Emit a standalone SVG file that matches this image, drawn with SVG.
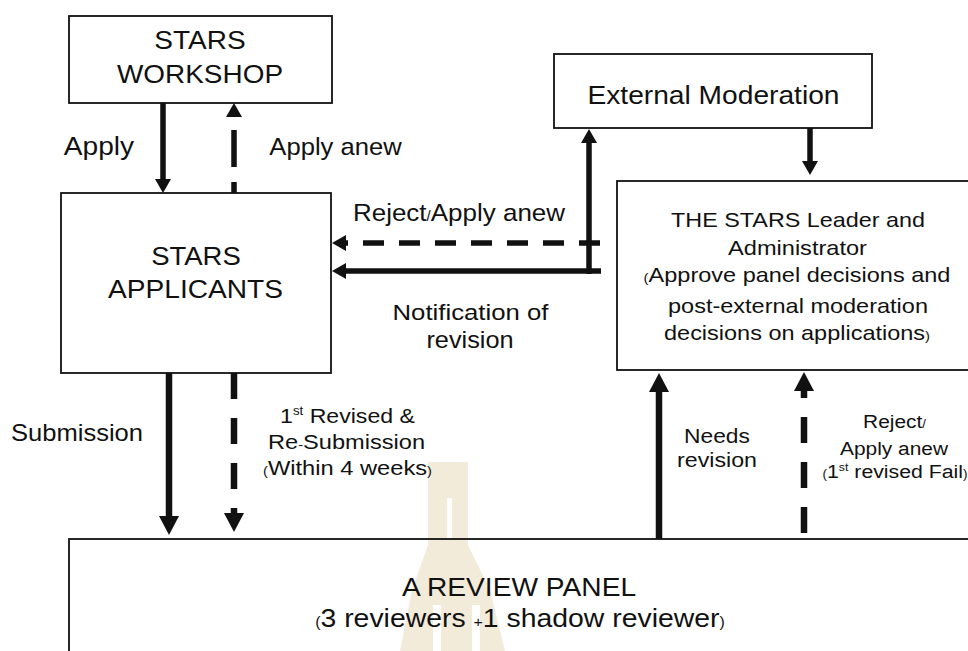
<svg xmlns="http://www.w3.org/2000/svg" width="968" height="651" viewBox="0 0 968 651">
<style>
.box{fill:none;stroke:#111;stroke-width:1.8}
.t{font-family:"Liberation Sans",Arial,sans-serif;fill:#111;text-anchor:middle}
.f25{font-size:25px}.f24{font-size:24px}.f23{font-size:23px}.f21{font-size:21px}.f20{font-size:20.5px}.f19{font-size:19px}
.s{fill:none;stroke:#111;stroke-width:5.5}
.b{fill:none;stroke:#111;stroke-width:6.5}
.d1{stroke-dasharray:21 15}
.d2{stroke-dasharray:26 19}
.wm{fill:#f3ebd9}
</style>
<defs>
<marker id="hs" markerUnits="userSpaceOnUse" markerWidth="16" markerHeight="16" refX="0" refY="8" orient="auto" overflow="visible"><path d="M0,0 L14,8 L0,16 z" fill="#111"/></marker>
<marker id="hl" markerUnits="userSpaceOnUse" markerWidth="20" markerHeight="20" refX="0" refY="10" orient="auto" overflow="visible"><path d="M0,0 L19,10 L0,20 z" fill="#111"/></marker>
</defs>
<rect width="968" height="651" fill="#fff"/>
<g id="watermark">
<polygon class="wm" points="428,462 468,462 468,545 490,590 505,651 400,651 412,590 428,545"/>
<rect x="447" y="498" width="5" height="40" fill="#fff"/>
<rect x="433" y="605" width="8" height="46" fill="#fff"/>
<rect x="472" y="605" width="8" height="46" fill="#fff"/>
</g>
<g id="connectors">
<path class="s" d="M163,103 V179" marker-end="url(#hs)"/>
<path class="s" d="M234,193 V117" style="stroke-dasharray:11 15 37 13" marker-end="url(#hs)"/>
<path class="s d1" d="M600,243 H346" marker-end="url(#hs)"/>
<path class="s" d="M601,271 H346" marker-end="url(#hs)"/>
<path class="s" d="M589,274 V143" marker-end="url(#hs)"/>
<path class="s" d="M810,128 V161" marker-end="url(#hs)"/>
<path class="b" d="M169,373 V516" marker-end="url(#hl)"/>
<path class="b d2" d="M234,373 V513" marker-end="url(#hl)"/>
<path class="b" d="M659,539 V392" marker-end="url(#hl)"/>
<path class="b d2" d="M804,533 V391" marker-end="url(#hl)"/>
</g>
<g id="labels">
<text class="t f25" transform="translate(99,155) scale(1.125,1)">Apply</text>
<text class="t f24" transform="translate(335.5,155) scale(1.067,1)">Apply anew</text>
<text class="t f24" transform="translate(459,221) scale(1.082,1)">Reject<tspan font-size="14">/</tspan>Apply anew</text>
<text class="t f23" transform="translate(470.5,320) scale(1.12,1)">Notification of</text>
<text class="t f23" transform="translate(470,348) scale(1.1,1)">revision</text>
<text class="t" font-size="23.5" transform="translate(77,441) scale(1.087,1)">Submission</text>
<text class="t f21" transform="translate(347.5,423) scale(1.1,1)">1<tspan font-size="12" dy="-8">st</tspan><tspan dy="8"> Revised &amp;</tspan></text>
<text class="t f21" transform="translate(346.5,449) scale(1.125,1)">Re<tspan font-size="13">-</tspan>Submission</text>
<text class="t f21" transform="translate(347.5,475) scale(1.128,1)"><tspan font-size="13">(</tspan>Within 4 weeks<tspan font-size="13">)</tspan></text>
<text class="t" font-size="20" transform="translate(717,443) scale(1.14,1)">Needs</text>
<text class="t" font-size="20" transform="translate(717,467) scale(1.16,1)">revision</text>
<text class="t f19" transform="translate(894.5,428) scale(1.1,1)">Reject<tspan font-size="12">/</tspan></text>
<text class="t f19" transform="translate(894,455) scale(1.1,1)">Apply anew</text>
<text class="t f19" transform="translate(895,478) scale(1.12,1)"><tspan font-size="12">(</tspan>1<tspan font-size="11" dy="-7">st</tspan><tspan dy="7"> revised Fail</tspan><tspan font-size="12">)</tspan></text>
</g>
<g id="workshop">
<rect class="box" x="69" y="16" width="263" height="87"/>
<text class="t f25" transform="translate(200,49) scale(1.12,1)">STARS</text>
<text class="t f25" transform="translate(200,83) scale(1.117,1)">WORKSHOP</text>
</g>
<g id="applicants">
<rect class="box" x="61" y="193" width="270" height="180"/>
<text class="t f25" transform="translate(196,265) scale(1.1,1)">STARS</text>
<text class="t f25" transform="translate(195.5,298) scale(1.125,1)">APPLICANTS</text>
</g>
<g id="external-moderation">
<rect class="box" x="554" y="54" width="318" height="74"/>
<text class="t f25" transform="translate(713.5,104) scale(1.127,1)">External Moderation</text>
</g>
<g id="leader">
<rect class="box" x="617" y="181" width="400" height="189"/>
<text class="t f20" transform="translate(798,227) scale(1.14,1)">THE STARS Leader and</text>
<text class="t f20" transform="translate(797.5,255) scale(1.15,1)">Administrator</text>
<text class="t f20" transform="translate(797,282) scale(1.147,1)"><tspan font-size="13">(</tspan>Approve panel decisions and</text>
<text class="t f20" transform="translate(798,313) scale(1.147,1)">post-external moderation</text>
<text class="t f20" transform="translate(797,340) scale(1.146,1)">decisions on applications<tspan font-size="13">)</tspan></text>
</g>
<g id="review-panel">
<rect class="box" x="69" y="539" width="950" height="200"/>
<text class="t f25" transform="translate(519,596) scale(1.127,1)">A REVIEW PANEL</text>
<text class="t f25" transform="translate(520,627) scale(1.136,1)"><tspan font-size="14">(</tspan>3 reviewers <tspan font-size="14">+</tspan>1 shadow reviewer<tspan font-size="14">)</tspan></text>
</g>
</svg>
